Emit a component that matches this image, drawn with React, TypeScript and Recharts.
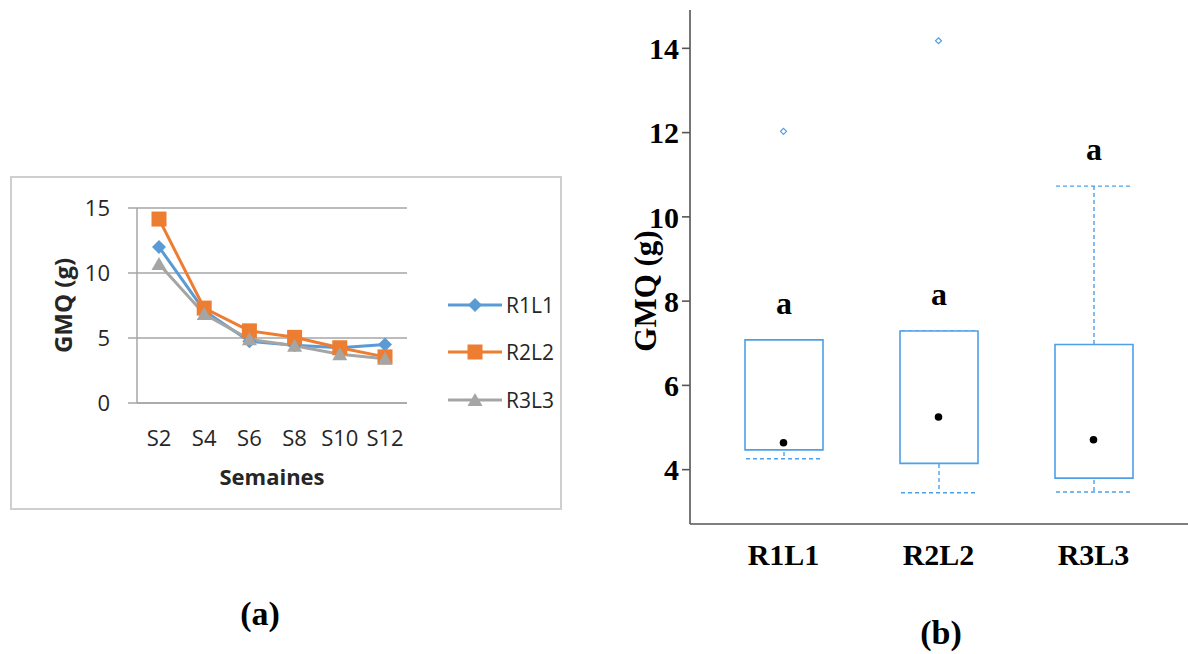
import React from 'react';
import {
  LineChart,
  Line,
  XAxis,
  YAxis,
  CartesianGrid,
  Legend,
  ComposedChart,
  Bar,
  Scatter,
  LabelList,
} from 'recharts';

// (a) weekly GMQ per treatment
const weeks = ['S2', 'S4', 'S6', 'S8', 'S10', 'S12'];
const r1l1 = [12.0, 7.1, 4.75, 4.45, 4.25, 4.5];
const r2l2 = [14.15, 7.3, 5.55, 5.05, 4.25, 3.55];
const r3l3 = [10.7, 6.85, 4.9, 4.4, 3.75, 3.4];
const lineTicks = [0, 5, 10, 15];

// (b) box plot per treatment
const groups = ['R1L1', 'R2L2', 'R3L3'];
const q1 = [4.47, 4.15, 3.8];
const q3 = [7.08, 7.29, 6.97];
const whiskerLow = [4.26, 3.45, 3.47];
const whiskerHigh = [7.08, 7.29, 10.73];
const centers = [4.64, 5.25, 4.71];
const outliers = [12.03, 14.18, null];
const letters = ['a', 'a', 'a'];
const boxTicks = [4, 6, 8, 10, 12, 14];

const SANS = "'Open Sans', 'Liberation Sans', sans-serif";
const SERIF = "'Liberation Serif', 'Times New Roman', serif";
const BLUE = '#4da0e8';
const GRID = '#a6a6a6';

const SERIES = [
  { key: 'R1L1', color: '#5B9BD5', marker: 'diamond', values: r1l1 },
  { key: 'R2L2', color: '#ED7D31', marker: 'square', values: r2l2 },
  { key: 'R3L3', color: '#A5A5A5', marker: 'triangle', values: r3l3 },
];

const lineData = weeks.map((w, i) => {
  const row: any = { week: w };
  SERIES.forEach((s) => (row[s.key] = s.values[i]));
  return row;
});

const boxData = groups.map((g, i) => ({
  group: g,
  box: [q1[i], q3[i]],
  whisker: [whiskerLow[i], whiskerHigh[i]],
  center: centers[i],
  outlier: outliers[i],
  letter: letters[i],
}));

function markerPath(type: string, cx: number, cy: number) {
  if (type === 'diamond') return `M${cx},${cy - 7}L${cx + 7},${cy}L${cx},${cy + 7}L${cx - 7},${cy}Z`;
  if (type === 'square') return `M${cx - 7.5},${cy - 7.5}h15v15h-15Z`;
  return `M${cx},${cy - 7}L${cx + 7.5},${cy + 6}L${cx - 7.5},${cy + 6}Z`;
}

const rotatedLabel = (text: string, dx: number, shift: number, style: any) => (props: any) => {
  const vb = props.viewBox || { x: 0, y: 0, width: 0, height: 0 };
  const cx = vb.x + dx;
  const cy = vb.y + vb.height / 2 + shift;
  return (
    <text
      x={cx}
      y={cy}
      transform={`rotate(-90 ${cx} ${cy})`}
      textAnchor="middle"
      dominantBaseline="central"
      style={style}
    >
      {text}
    </text>
  );
};

const renderLegend = (props: any) => {
  const payload = props.payload || [];
  return (
    <div style={{ fontFamily: SANS, fontSize: 21, color: '#262626' }}>
      {payload.map((p: any) => {
        const s = SERIES.find((x) => x.key === p.value) || SERIES[0];
        return (
          <div key={p.value} style={{ display: 'flex', alignItems: 'center', height: 47.5 }}>
            <svg width={58} height={20}>
              <line x1={0} x2={54} y1={10} y2={10} stroke={s.color} strokeWidth={3} />
              <path d={markerPath(s.marker, 27, 10)} fill={s.color} />
            </svg>
            <span>{p.value}</span>
          </div>
        );
      })}
    </div>
  );
};

const WhiskerShape = (p: any) => {
  const { x, y, width, height } = p;
  if (x == null || y == null) return <g />;
  const cx = x + width / 2;
  return (
    <g stroke={BLUE} strokeWidth={1.4} strokeDasharray="4 3" fill="none">
      <line x1={cx} x2={cx} y1={y} y2={y + height} />
      <line x1={x + 1} x2={x + width - 1} y1={y} y2={y} />
      <line x1={x + 1} x2={x + width - 1} y1={y + height} y2={y + height} />
    </g>
  );
};

function GrowthChart() {
  return (
    <div
      style={{
        position: 'absolute',
        left: 10,
        top: 176,
        width: 552,
        height: 334,
        border: '2px solid #cfcfcf',
        boxSizing: 'border-box',
        background: '#fff',
      }}
    >
      <LineChart
        width={536}
        height={330}
        data={lineData}
        margin={{ top: 30, right: 141, bottom: 0, left: 0 }}
      >
        <CartesianGrid vertical={false} stroke={GRID} strokeWidth={1.5} />
        <XAxis
          dataKey="week"
          height={105}
          padding={{ left: 22, right: 22 }}
          tickLine={false}
          tickSize={0}
          tickMargin={27}
          axisLine={{ stroke: GRID, strokeWidth: 1.5 }}
          tick={{ fill: '#262626', fontSize: 22, fontFamily: SANS }}
          label={{
            value: 'Semaines',
            position: 'insideBottom',
            offset: 23,
            style: { fill: '#262626', fontSize: 22, fontWeight: 700, fontFamily: SANS },
          }}
        />
        <YAxis
          width={125}
          domain={[0, 15]}
          ticks={lineTicks}
          tickSize={9}
          tickMargin={18}
          axisLine={{ stroke: GRID, strokeWidth: 1.5 }}
          tickLine={{ stroke: GRID, strokeWidth: 1.5 }}
          tick={{ fill: '#262626', fontSize: 22, fontFamily: SANS }}
          label={rotatedLabel('GMQ (g)', 50, 0, {
            fill: '#262626',
            fontSize: 24,
            fontWeight: 700,
            fontFamily: SANS,
          })}
        />
        <Legend
          layout="vertical"
          align="center"
          verticalAlign="middle"
          content={renderLegend}
          wrapperStyle={{ left: 436, top: 103, width: 'auto' }}
        />
        {SERIES.map((s) => (
          <Line
            key={s.key}
            dataKey={s.key}
            name={s.key}
            stroke={s.color}
            strokeWidth={3}
            isAnimationActive={false}
            activeDot={false}
            dot={(p: any) => (
              <path key={`${s.key}-${p.index}`} d={markerPath(s.marker, p.cx, p.cy)} fill={s.color} />
            )}
          />
        ))}
      </LineChart>
    </div>
  );
}

function BoxChart() {
  const tickStyle = { fill: '#000', fontSize: 30, fontWeight: 700, fontFamily: SERIF };
  return (
    <div style={{ position: 'absolute', left: 600, top: 0 }}>
      <ComposedChart
        width={600}
        height={600}
        data={boxData}
        margin={{ top: 10, right: 0, bottom: 16, left: 0 }}
      >
        <XAxis
          xAxisId="main"
          dataKey="group"
          height={60}
          padding={{ left: 16, right: 29 }}
          tickLine={false}
          tickSize={0}
          tickMargin={20}
          axisLine={{ stroke: '#555', strokeWidth: 1.6 }}
          tick={tickStyle}
        />
        <XAxis
          xAxisId="top"
          orientation="top"
          dataKey="group"
          height={0}
          padding={{ left: 16, right: 29 }}
          tick={false}
          tickLine={false}
          axisLine={{ stroke: '#555', strokeWidth: 1.6 }}
        />
        <YAxis
          width={90}
          type="number"
          domain={[2.71, 14.91]}
          allowDataOverflow
          ticks={boxTicks}
          tickSize={8}
          tickMargin={3}
          axisLine={{ stroke: '#555', strokeWidth: 1.6 }}
          tickLine={{ stroke: '#555', strokeWidth: 1.6 }}
          tick={tickStyle}
          label={rotatedLabel('GMQ (g)', 45, 24, { ...tickStyle, fontSize: 31 })}
        />
        <Bar
          xAxisId="top"
          dataKey="whisker"
          barSize={78}
          isAnimationActive={false}
          shape={WhiskerShape}
        >
          <LabelList
            dataKey="letter"
            position="top"
            offset={26}
            style={{ fill: '#000', fontSize: 32, fontWeight: 700, fontFamily: SERIF }}
          />
        </Bar>
        <Bar
          xAxisId="main"
          dataKey="box"
          barSize={78}
          fill="#fff"
          stroke={BLUE}
          strokeWidth={1.6}
          isAnimationActive={false}
        />
        <Scatter
          xAxisId="main"
          dataKey="center"
          isAnimationActive={false}
          shape={(p: any) =>
            p.cy == null || isNaN(p.cy) ? <g /> : <circle cx={p.cx} cy={p.cy} r={3.8} fill="#000" />
          }
        />
        <Scatter
          xAxisId="main"
          dataKey="outlier"
          isAnimationActive={false}
          shape={(p: any) =>
            p.cy == null || isNaN(p.cy) || p.payload?.outlier == null ? (
              <g />
            ) : (
              <path
                d={`M${p.cx},${p.cy - 3}L${p.cx + 3},${p.cy}L${p.cx},${p.cy + 3}L${p.cx - 3},${p.cy}Z`}
                fill="#fff"
                stroke={BLUE}
                strokeWidth={1.2}
              />
            )
          }
        />
      </ComposedChart>
    </div>
  );
}

export default function App() {
  const caption = {
    position: 'absolute' as const,
    fontFamily: SERIF,
    fontWeight: 700,
    fontSize: 34,
    color: '#000',
    transform: 'translate(-50%, -50%)',
    lineHeight: 1,
  };
  return (
    <div
      style={{
        position: 'relative',
        width: 1188,
        height: 654,
        overflow: 'hidden',
        background: '#fff',
      }}
    >
      <style>{'body{margin:0}'}</style>
      <GrowthChart />
      <BoxChart />
      <div style={{ ...caption, left: 260, top: 614 }}>(a)</div>
      <div style={{ ...caption, left: 941, top: 633 }}>(b)</div>
    </div>
  );
}
